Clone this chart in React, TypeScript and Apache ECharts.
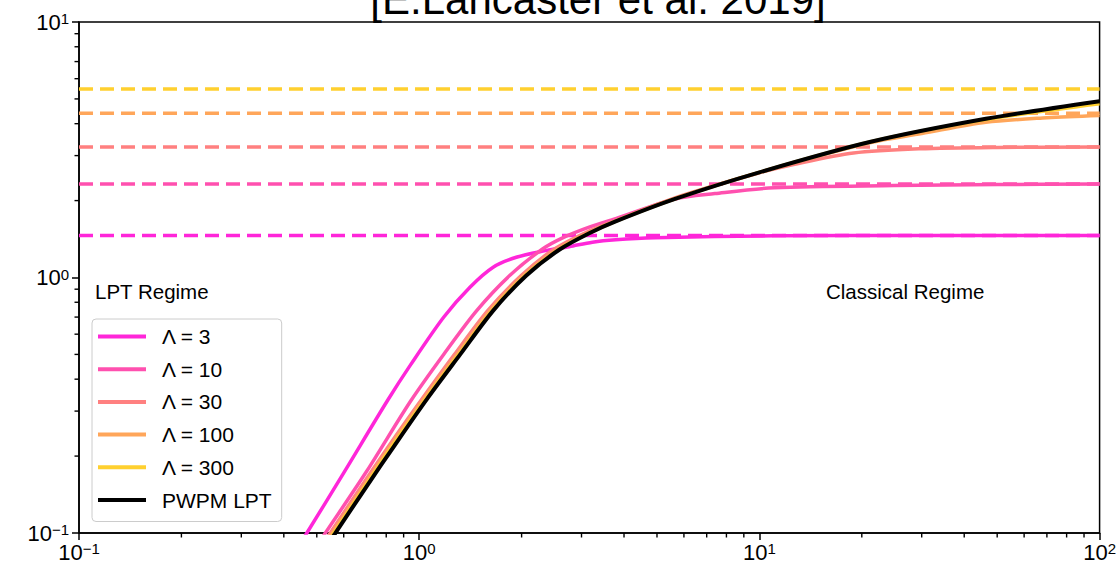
import React, { useEffect, useRef } from "react";
import * as echarts from "echarts";

// ---- data ----
const titleText = "[E.Lancaster et al. 2019]";
const seriesNames = ["Λ = 3", "Λ = 10", "Λ = 30", "Λ = 100", "Λ = 300", "PWPM LPT"];
const seriesColors = ["#ff26d9", "#ff50af", "#ff8080", "#ffa65a", "#ffd02f", "#000000"];
// classical asymptotes for each Λ (dashed lines)
const asymptotes = [1.46, 2.32, 3.24, 4.39, 5.47];

const curveL3: [number, number][] = [
  [0.42, 0.08], [0.466, 0.0993], [0.6, 0.172], [0.807, 0.33], [0.943, 0.455], [1.18, 0.699],
  [1.41, 0.916], [1.65, 1.097], [1.93, 1.2], [2.31, 1.268], [2.76, 1.32], [3.23, 1.375],
  [3.78, 1.405], [4.94, 1.43], [11, 1.456], [30, 1.46], [100, 1.46],
];
const curveL10: [number, number][] = [
  [0.48, 0.082], [0.528, 0.0993], [0.7, 0.174], [0.943, 0.328], [1.18, 0.5], [1.476, 0.742],
  [1.845, 1.018], [2.31, 1.296], [2.64, 1.43], [3.16, 1.574], [3.78, 1.7], [5.65, 2.03],
  [7.4, 2.13], [11.07, 2.245], [24.8, 2.29], [50, 2.31], [100, 2.32],
];
const curveL30: [number, number][] = [
  [0.5, 0.083], [0.546, 0.0993], [0.7, 0.163], [0.85, 0.238], [1.02, 0.335], [1.27, 0.5],
  [1.59, 0.742], [1.995, 1.018], [2.49, 1.29], [3.09, 1.5], [3.78, 1.67], [5.65, 2.05],
  [10, 2.57], [12.6, 2.77], [18.9, 3.07], [29.6, 3.19], [50, 3.23], [100, 3.24],
];
const curveL100: [number, number][] = [
  [0.5, 0.081], [0.554, 0.0993], [0.7, 0.158], [0.85, 0.232], [1.055, 0.348], [1.32, 0.518],
  [1.65, 0.765], [2.065, 1.04], [2.58, 1.3], [3.16, 1.5], [3.78, 1.665], [5.65, 2.04],
  [10, 2.58], [21.1, 3.37], [30, 3.66], [46.3, 4.05], [70, 4.22], [100, 4.31],
];
const curveL300: [number, number][] = [
  [0.5, 0.0795], [0.56, 0.0993], [0.7, 0.155], [0.85, 0.227], [1.055, 0.34], [1.32, 0.507],
  [1.65, 0.75], [2.065, 1.025], [2.58, 1.29], [3.16, 1.492], [3.78, 1.66], [5.65, 2.03],
  [10, 2.58], [21.1, 3.39], [46.3, 4.15], [100, 4.79],
];
const curvePWPM: [number, number][] = [
  [0.5, 0.078], [0.565, 0.0993], [0.7, 0.152], [0.85, 0.222], [1.055, 0.335], [1.32, 0.5],
  [1.65, 0.742], [2.065, 1.018], [2.58, 1.284], [3.16, 1.49], [3.78, 1.658], [5.65, 2.03],
  [10, 2.58], [21.1, 3.39], [46.3, 4.18], [100, 4.9],
];
const curves = [curveL3, curveL10, curveL30, curveL100, curveL300, curvePWPM];

const xRange = [0.1, 100];
const yRange = [0.1, 10];
const xMinorTicks = [0.2, 0.3, 0.4, 0.5, 0.6, 0.7, 0.8, 0.9, 2, 3, 4, 5, 6, 7, 8, 9, 20, 30, 40, 50, 60, 70, 80, 90];
const yMinorTicks = [0.2, 0.3, 0.4, 0.5, 0.6, 0.7, 0.8, 0.9, 2, 3, 4, 5, 6, 7, 8, 9];
const annotations = [
  { text: "LPT Regime", x: 95, y: 291 },
  { text: "Classical Regime", x: 826, y: 291 },
];

const FONT = "'Liberation Sans', Arial, Helvetica, sans-serif";

function expLabel(v: number) {
  const e = Math.round(Math.log10(v));
  const s = e < 0 ? "−" + -e : String(e);
  return "{base|10}{sup|" + s + "}";
}
const richTick = {
  base: { fontSize: 22, fontFamily: FONT, color: "#000" },
  sup: { fontSize: 15, fontFamily: FONT, color: "#000", verticalAlign: "top" },
};

export default function App() {
  const ref = useRef<HTMLDivElement>(null);
  useEffect(() => {
    if (!ref.current) return;
    const chart = echarts.init(ref.current, undefined, { renderer: "svg" });

    const dashedSeries = asymptotes.map((v, i) => ({
      type: "line",
      name: "asym" + i,
      data: [[xRange[0], v], [xRange[1], v]],
      showSymbol: false,
      symbol: "none",
      silent: true,
      lineStyle: { color: seriesColors[i], width: 3.5, type: [14, 7] },
      itemStyle: { color: seriesColors[i] },
      z: 2,
    }));
    const solidSeries = curves.map((c, i) => ({
      type: "line",
      name: seriesNames[i],
      data: c,
      showSymbol: false,
      symbol: "none",
      smooth: 0.3,
      clip: true,
      lineStyle: { color: seriesColors[i], width: i === 5 ? 4 : 3.5 },
      itemStyle: { color: seriesColors[i] },
      z: 3 + i,
    }));

    const baseGraphic: any[] = [
      {
        type: "text", x: 598, y: -1, silent: true,
        style: { text: titleText, fontSize: 42, fontFamily: FONT, fill: "#000", textAlign: "center", textVerticalAlign: "middle" },
      },
      ...annotations.map((a) => ({
        type: "text", x: a.x, y: a.y, silent: true, z: 10,
        style: { text: a.text, fontSize: 20.5, fontFamily: FONT, fill: "#000", textAlign: "left", textVerticalAlign: "middle" },
      })),
    ];

    chart.setOption({
      animation: false,
      backgroundColor: "#ffffff",
      grid: {
        left: 79, right: 11, top: 22, bottom: 37,
        show: true, borderColor: "#000", borderWidth: 1.5, backgroundColor: "transparent",
      },
      xAxis: {
        type: "log", logBase: 10, min: xRange[0], max: xRange[1],
        axisLine: { show: true, lineStyle: { color: "#000", width: 1.5 } },
        axisTick: { show: true, inside: false, length: 7, lineStyle: { color: "#000", width: 1.5 } },
        axisLabel: { formatter: expLabel, rich: richTick, color: "#000", margin: 8, showMinLabel: true, showMaxLabel: true },
        splitLine: { show: false },
      },
      yAxis: {
        type: "log", logBase: 10, min: yRange[0], max: yRange[1],
        axisLine: { show: true, lineStyle: { color: "#000", width: 1.5 } },
        axisTick: { show: true, inside: false, length: 7, lineStyle: { color: "#000", width: 1.5 } },
        axisLabel: { formatter: expLabel, rich: richTick, color: "#000", margin: 10, showMinLabel: true, showMaxLabel: true },
        splitLine: { show: false },
      },
      legend: {
        data: seriesNames,
        orient: "vertical",
        left: 92,
        top: 319,
        icon: "rect",
        itemWidth: 48,
        itemHeight: 4,
        itemGap: 11.7,
        padding: [7, 10, 11, 6],
        backgroundColor: "rgba(255,255,255,0.85)",
        borderColor: "#cccccc",
        borderWidth: 1,
        borderRadius: 4,
        selectedMode: false,
        textStyle: { fontSize: 21, lineHeight: 21, color: "#000", fontFamily: FONT, padding: [0, 0, 0, 11] },
      },
      graphic: baseGraphic,
      series: [...dashedSeries, ...solidSeries],
    });

    // minor ticks placed through the chart's own log scales
    const minor: any[] = [];
    xMinorTicks.forEach((v) => {
      const p = chart.convertToPixel({ xAxisIndex: 0, yAxisIndex: 0 }, [v, yRange[0]]) as number[];
      if (p && isFinite(p[0])) {
        minor.push({ type: "line", silent: true, z: 20, shape: { x1: p[0], y1: p[1], x2: p[0], y2: p[1] + 4.5 }, style: { stroke: "#000", lineWidth: 1.4 } });
      }
    });
    yMinorTicks.forEach((v) => {
      const p = chart.convertToPixel({ xAxisIndex: 0, yAxisIndex: 0 }, [xRange[0], v]) as number[];
      if (p && isFinite(p[1])) {
        minor.push({ type: "line", silent: true, z: 20, shape: { x1: p[0] - 4.5, y1: p[1], x2: p[0], y2: p[1] }, style: { stroke: "#000", lineWidth: 1.4 } });
      }
    });
    chart.setOption({ graphic: [...baseGraphic, ...minor] });

    return () => chart.dispose();
  }, []);
  return <div ref={ref} style={{ position: "fixed", left: 0, top: 0, width: 1119, height: 570, background: "#fff" }} />;
}
